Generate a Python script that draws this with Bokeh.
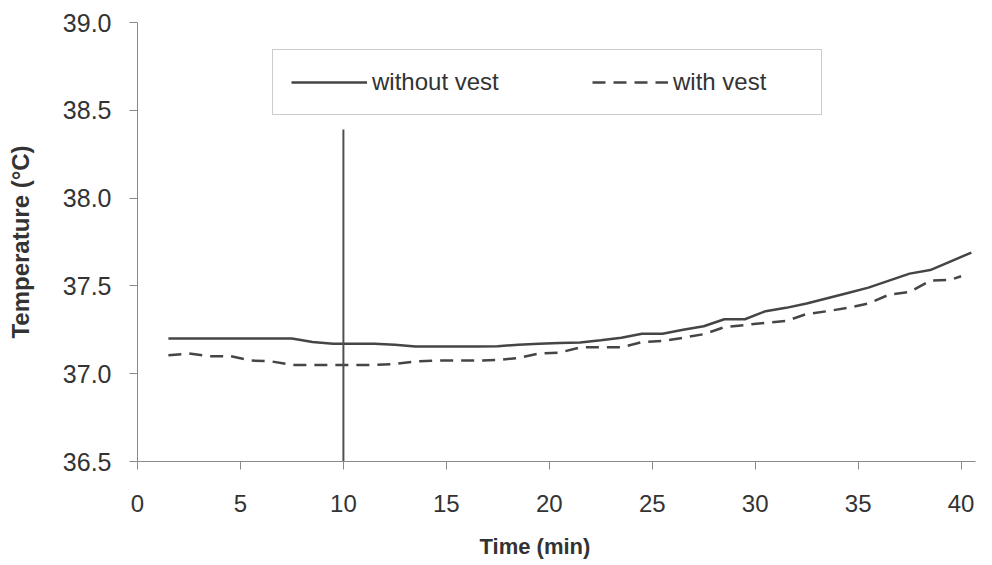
from bokeh.plotting import figure
from bokeh.models import Range1d, FixedTicker, Legend, LegendItem, Title, PrintfTickFormatter, LinearAxis
from bokeh.embed import file_html
from bokeh.resources import INLINE

# ---- data ----
time_without = [1.5, 2.5, 3.5, 4.5, 5.5, 6.5, 7.5, 8.5, 9.5, 10.5,
                11.5, 12.5, 13.5, 14.5, 15.5, 16.5, 17.5, 18.5, 19.5, 20.5,
                21.5, 22.5, 23.5, 24.5, 25.5, 26.5, 27.5, 28.5, 29.5, 30.5,
                31.5, 32.5, 33.5, 34.5, 35.5, 36.5, 37.5, 38.5, 39.5, 40.5]
temp_without = [37.20, 37.20, 37.20, 37.20, 37.20, 37.20, 37.20, 37.18, 37.17, 37.17,
                37.17, 37.165, 37.155, 37.155, 37.155, 37.155, 37.157, 37.165, 37.17, 37.175,
                37.178, 37.19, 37.205, 37.227, 37.227, 37.25, 37.27, 37.31, 37.31, 37.356,
                37.375, 37.40, 37.43, 37.46, 37.49, 37.53, 37.57, 37.59, 37.64, 37.69]

time_with = [1.5, 2.5, 3.5, 4.5, 5.5, 6.5, 7.5, 8.5, 9.5, 10.5,
             11.5, 12.5, 13.5, 14.5, 15.5, 16.5, 17.5, 18.5, 19.5, 20.5,
             21.5, 22.5, 23.5, 24.5, 25.5, 26.5, 27.5, 28.5, 29.5, 30.5,
             31.5, 32.5, 33.5, 34.5, 35.5, 36.5, 37.5, 38.5, 39.5, 40.0]
temp_with = [37.105, 37.115, 37.10, 37.10, 37.075, 37.07, 37.05, 37.05, 37.05, 37.05,
             37.05, 37.055, 37.07, 37.075, 37.075, 37.075, 37.078, 37.09, 37.115, 37.12,
             37.15, 37.15, 37.15, 37.18, 37.186, 37.205, 37.225, 37.265, 37.277, 37.29,
             37.30, 37.34, 37.356, 37.375, 37.40, 37.45, 37.465, 37.53, 37.535, 37.555]

marker_time = [10, 10]
marker_temp = [36.5, 38.39]

x_ticks = [0, 5, 10, 15, 20, 25, 30, 35, 40]
y_ticks = [36.5, 37.0, 37.5, 38.0, 38.5, 39.0]

FONT = "Liberation Sans"
TXT = "#333333"
AX = "#8a8a8a"

p = figure(width=976, height=562, x_range=Range1d(0, 40.7), y_range=Range1d(36.5, 39.0),
           output_backend="svg", toolbar_location=None,
           min_border_left=137, min_border_top=22, min_border_bottom=101, min_border_right=1)
p.outline_line_color = None
p.xgrid.visible = False
p.ygrid.visible = False
p.background_fill_color = "white"
p.border_fill_color = "white"

r1 = p.line(time_without, temp_without, line_color="#454545", line_width=2.5)
r2 = p.line(time_with, temp_with, line_color="#454545", line_width=2.5, line_dash="13 8")
p.line(marker_time, marker_temp, line_color="#505050", line_width=2)

for ax in (p.xaxis[0], p.yaxis[0]):
    ax.axis_line_color = AX
    ax.major_tick_line_color = AX
    ax.minor_tick_line_color = None
    ax.major_tick_out = 8
    ax.major_tick_in = 0
    ax.major_label_text_font = FONT
    ax.major_label_text_color = TXT

p.xaxis[0].ticker = FixedTicker(ticks=x_ticks)
p.xaxis[0].major_label_text_font_size = "24px"
p.xaxis[0].major_label_standoff = 25

p.yaxis[0].ticker = FixedTicker(ticks=y_ticks)
p.yaxis[0].formatter = PrintfTickFormatter(format="%.1f")
p.yaxis[0].major_label_text_font_size = "25px"
p.yaxis[0].major_label_standoff = 18
p.yaxis[0].axis_label = "Temperature (°C)"
p.yaxis[0].axis_label_text_font = FONT
p.yaxis[0].axis_label_text_font_style = "bold"
p.yaxis[0].axis_label_text_font_size = "24px"
p.yaxis[0].axis_label_text_color = TXT
p.yaxis[0].axis_label_standoff = 26

# blank spacer band between the tick labels and the x title (white on white)
spacer = LinearAxis(ticker=FixedTicker(ticks=[20]), axis_line_color="white",
                    major_tick_line_color="white", minor_tick_line_color=None,
                    major_tick_out=16, major_tick_in=0, major_label_standoff=0,
                    major_label_overrides={20: ""}, major_label_text_font_size="1px")
p.add_layout(spacer, "below")

p.add_layout(Title(text="Time (min)", align="left", offset=342, standoff=2,
                   vertical_align="bottom",
                   text_font=FONT, text_font_style="bold", text_font_size="22px",
                   text_color=TXT), "below")

legend = Legend(items=[LegendItem(label="without vest", renderers=[r1]),
                       LegendItem(label="with vest", renderers=[r2])],
                orientation="horizontal", location=(135, 346),
                padding=18, margin=0, spacing=90, glyph_width=76, glyph_height=28,
                label_width=130, label_standoff=5,
                label_text_font=FONT, label_text_font_size="24px", label_text_color=TXT,
                border_line_color="#9a9a9a", border_line_width=1,
                background_fill_color="white", background_fill_alpha=1)
p.add_layout(legend)

open("out.html", "w").write(file_html(p, INLINE))
